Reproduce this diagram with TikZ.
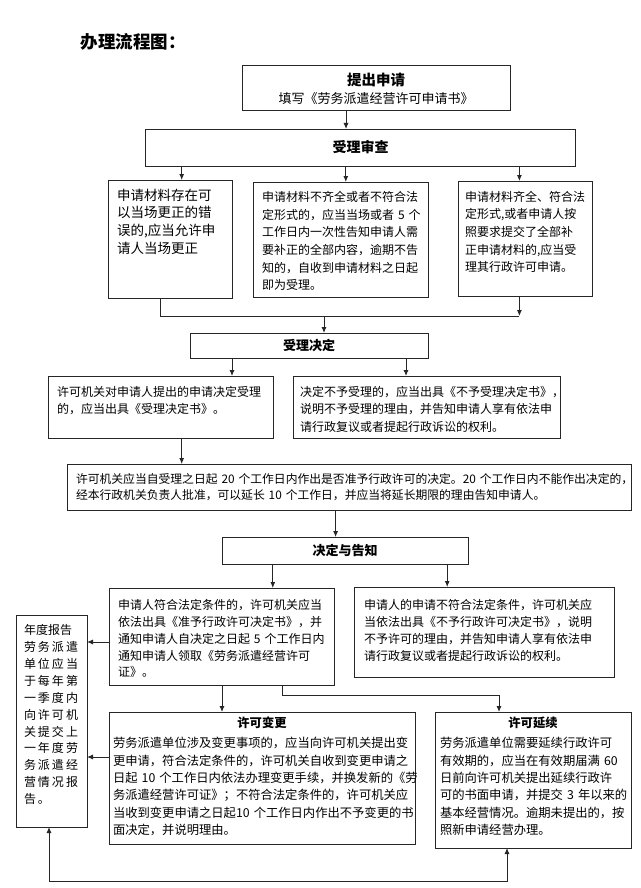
\documentclass[tikz,border=0pt]{standalone}
\usepackage{fontspec}
\setmainfont{Noto Sans CJK SC}
\usetikzlibrary{arrows.meta}
\tikzset{
  bx/.style={draw=black!85, line width=1pt, inner ysep=0pt, outer sep=0pt, anchor=north west, align=left, font=\fontsize{12}{17.6}\selectfont},
  cbx/.style={draw=black!85, line width=1pt, outer sep=0pt, inner sep=0pt, align=center},
  ln/.style={draw=black!85, line width=0.9pt},
  arr/.style={draw=black!85, line width=0.9pt, -{Latex[length=6pt,width=5pt]}}
}
\begin{document}
\begin{tikzpicture}[x=1pt,y=-1pt]
\path[use as bounding box] (0,0) rectangle (640,888);
\fill[white] (0,0) rectangle (640,888);

\node[font=\fontsize{17.5}{20}\selectfont\bfseries] (title) at (133,42) {办理流程图：};

\node[cbx, minimum width=268pt, minimum height=45pt, font=\fontsize{13}{18}\selectfont] (b1) at (376,88.5)
  {{\fontsize{14.5}{18}\selectfont\bfseries 提出申请}\\填写《劳务派遣经营许可申请书》};
\node[cbx, minimum width=430pt, minimum height=37pt, font=\fontsize{14}{17}\selectfont\bfseries] (b2) at (360.6,147.5) {受理审查};

\node[bx, inner xsep=9pt, text width=106pt, text height=20.1pt, text depth=97.9pt, font=\fontsize{13.5}{17.7}\selectfont] (b3a) at (108,180)
  {申请材料存在可\\以当场更正的错\\误的,应当允许申\\请人当场更正};
\node[bx, inner xsep=9pt, text width=157pt, text height=19.6pt, text depth=95.4pt] (b3b) at (253,182)
  {申请材料不齐全或者不符合法\\定形式的，应当当场或者~5~个\\工作日内一次性告知申请人需\\要补正的全部内容，逾期不告\\知的，自收到申请材料之日起\\即为受理。};
\node[bx, inner xsep=7pt, text width=120pt, text height=20.3pt, text depth=94.7pt] (b3c) at (458,181)
  {申请材料齐全、符合法\\定形式,或者申请人按\\照要求提交了全部补\\正申请材料的,应当受\\理其行政许可申请。};

\node[cbx, minimum width=238pt, minimum height=25pt, font=\fontsize{13}{16}\selectfont\bfseries] (b4) at (309,345.5) {受理决定};

\node[bx, inner xsep=9pt, text width=207pt, text height=20.3pt, text depth=41.7pt] (b5a) at (48,376)
  {许可机关对申请人提出的申请决定受理\\的，应当出具《受理决定书》。};
\node[bx, inner xsep=7pt, text width=253pt, text height=20.3pt, text depth=41.7pt] (b5b) at (293,376)
  {决定不予受理的，应当出具《不予受理决定书》，\\说明不予受理的理由，并告知申请人享有依法申\\请行政复议或者提起行政诉讼的权利。};

\node[bx, inner xsep=9pt, text width=546pt, text height=19.8pt, text depth=26.2pt, font=\fontsize{11.8}{16}\selectfont] (b6) at (67,464)
  {许可机关应当自受理之日起~20~个工作日内作出是否准予行政许可的决定。20~个工作日内不能作出决定的，\\经本行政机关负责人批准，可以延长~10~个工作日，并应当将延长期限的理由告知申请人。};

\node[cbx, minimum width=246pt, minimum height=27pt, font=\fontsize{13}{16}\selectfont\bfseries] (b7) at (345,550.5) {决定与告知};

\node[bx, inner xsep=9pt, text width=207pt, text height=21.6pt, text depth=75.4pt, font=\fontsize{12}{16.8}\selectfont] (b8a) at (109,588)
  {申请人符合法定条件的，许可机关应当\\依法出具《准予行政许可决定书》，并\\通知申请人自决定之日起~5~个工作日内\\通知申请人领取《劳务派遣经营许可\\证》。};
\node[bx, inner xsep=10pt, text width=240pt, text height=22.6pt, text depth=67.4pt, font=\fontsize{12}{16.8}\selectfont] (b8b) at (354,587)
  {申请人的申请不符合法定条件，许可机关应\\当依法出具《不予行政许可决定书》，说明\\不予许可的理由，并告知申请人享有依法申\\请行政复议或者提起行政诉讼的权利。};

\node[bx, inner xsep=8pt, text width=55pt, text height=19.6pt, text depth=192.4pt, font=\fontsize{12}{16.9}\selectfont] (lb) at (16,615)
  {年度报告\\劳\,务\,派\,遣\\单\,位\,应\,当\\于\,每\,年\,第\\一\,季\,度\,内\\向\,许\,可\,机\\关\,提\,交\,上\\一\,年\,度\,劳\\务\,派\,遣\,经\\营\,情\,况\,报\\告\,。};

\node[bx, inner xsep=4pt, text width=298pt, text height=15.7pt, text depth=116.3pt, font=\fontsize{12.3}{17.4}\selectfont] (b9a) at (109,712)
  {\makebox[\linewidth]{\bfseries 许可变更}\\[2.6pt]劳务派遣单位涉及变更事项的，应当向许可机关提出变\\更申请，符合法定条件的，许可机关自收到变更申请之\\日起~10~个工作日内依法办理变更手续，并换发新的《劳\\务派遣经营许可证》；不符合法定条件的，许可机关应\\当收到变更申请之日起10~个工作日内作出不予变更的书\\面决定，并说明理由。};
\node[bx, inner xsep=5pt, text width=186pt, text height=15.7pt, text depth=120.3pt, font=\fontsize{12.3}{17.4}\selectfont] (b9b) at (435,712)
  {\makebox[\linewidth]{\bfseries 许可延续}\\[2.6pt]劳务派遣单位需要延续行政许可\\有效期的，应当在有效期届满~60\\日前向许可机关提出延续行政许\\可的书面申请，并提交~3~年以来的\\基本经营情况。逾期未提出的，按\\照新申请经营办理。};

% connectors
\draw[arr] (346,0 |- b1.south) -- (346,0 |- b2.north);
\draw[arr] (181.7,0 |- b2.south) -- (181.7,0 |- b3a.north);
\draw[arr] (345.8,0 |- b2.south) -- (345.8,0 |- b3b.north);
\draw[arr] (519.4,0 |- b2.south) -- (519.4,0 |- b3c.north);

\coordinate (ja) at (160,316);
\coordinate (jb) at (519.4,316);
\coordinate (jm) at (324,316);
\draw[ln] (160,0 |- b3a.south) -- (ja) -- (jb);
\draw[arr] (519.4,0 |- b3c.south) -- (jb);
\draw[arr] (jm) -- (324,0 |- b4.north);

\draw[arr] (232,0 |- b4.south) -- (232,0 |- b5a.north);
\draw[arr] (406,0 |- b4.south) -- (406,0 |- b5b.north);

\draw[arr] (181.7,0 |- b5a.south) -- (181.7,0 |- b6.north);
\draw[arr] (335.6,0 |- b6.south) -- (335.6,0 |- b7.north);

\draw[arr] (272.8,0 |- b7.south) -- (272.8,0 |- b8a.north);
\draw[arr] (447.2,0 |- b7.south) -- (447.2,0 |- b8b.north);

\draw[arr] (b8a.west |- 0,642) -- (lb.east |- 0,642);
\draw[arr] (222,0 |- b8a.south) -- (222,0 |- b9a.north);
\coordinate (k1) at (282,695);
\coordinate (k2) at (499,695);
\draw[arr] (282,0 |- b8a.south) -- (k1) -- (k2) -- (499,0 |- b9b.north);

\draw[arr] (b9a.west |- 0,757) -- (lb.east |- 0,757);

\coordinate (q1) at (507,881);
\coordinate (q2) at (49,881);
\draw[ln, {Latex[length=6pt,width=5pt]}-{Latex[length=6pt,width=5pt]}] (507,0 |- b9b.south) -- (q1) -- (q2) -- (49,0 |- lb.south);
\end{tikzpicture}
\end{document}
